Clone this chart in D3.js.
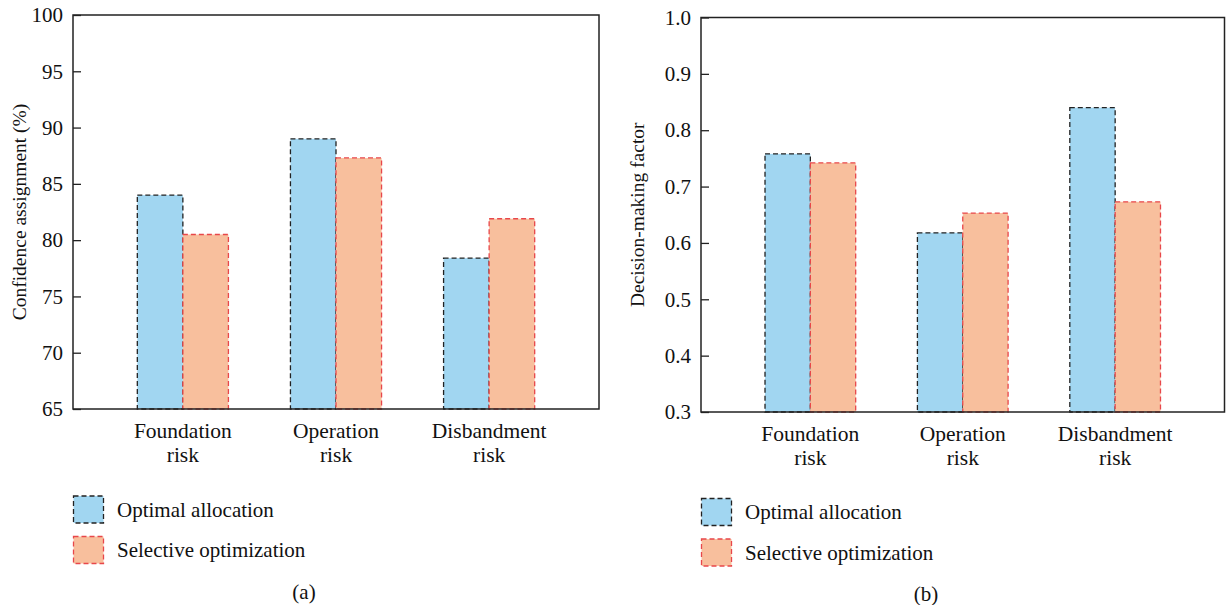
<!DOCTYPE html>
<html><head><meta charset="utf-8">
<script src="https://cdn.jsdelivr.net/npm/d3@7"></script>
<style>body{margin:0;background:#fff}svg{display:block}</style>
</head><body>
<svg id="c" width="1226" height="605"></svg>
<script>
const categories = [["Foundation","risk"],["Operation","risk"],["Disbandment","risk"]];
const seriesNames = ["Optimal allocation","Selective optimization"];
const confidenceOptimal = [84.0, 89.0, 78.4];
const confidenceSelective = [80.5, 87.3, 81.9];
const decisionOptimal = [0.758, 0.618, 0.840];
const decisionSelective = [0.742, 0.653, 0.673];
const ticksA = [65,70,75,80,85,90,95,100];
const ticksB = [0.3,0.4,0.5,0.6,0.7,0.8,0.9,1.0];

const svg = d3.select("#c");
const FONT = "Liberation Serif, Times New Roman, serif";
const fills = ["#a1d6f1","#f8bf9d"];
const strokes = ["#222","#e8474a"];

function panel(o){
  const g = svg.append("g");
  const y = d3.scaleLinear().domain(o.domain).range([o.bottom, o.top]);
  const x = d3.scaleBand().domain(d3.range(categories.length)).range([o.left, o.right])
      .paddingInner(0.405).paddingOuter(0.42);
  const xs = d3.scaleBand().domain([0,1]).range([0, x.bandwidth()]);
  const data = [o.a, o.b];
  categories.forEach((c,i)=>{
    [0,1].forEach(s=>{
      g.append("rect")
        .attr("x", x(i)+xs(s)).attr("width", xs.bandwidth())
        .attr("y", y(data[s][i])).attr("height", o.bottom - y(data[s][i]))
        .attr("fill", fills[s]).attr("stroke", strokes[s]).attr("stroke-width",1.3)
        .attr("stroke-dasharray","5,3");
    });
  });
  g.append("rect").attr("x",o.left).attr("y",o.top).attr("width",o.right-o.left).attr("height",o.bottom-o.top)
    .attr("fill","none").attr("stroke","#222").attr("stroke-width",1.5);
  const ax = g.append("g").attr("transform",`translate(${o.left},0)`)
    .call(d3.axisRight(y).tickValues(o.ticks).tickSize(8).tickFormat(o.fmt));
  ax.select(".domain").remove();
  ax.selectAll(".tick line").attr("stroke","#222").attr("stroke-width",1.3);
  ax.selectAll(".tick text").attr("x",-10).attr("text-anchor","end")
    .attr("font-family",FONT).attr("font-size",21).attr("fill","#111");
  g.append("text").attr("transform",`translate(${o.labelX},${(o.top+o.bottom)/2}) rotate(-90)`)
    .attr("text-anchor","middle").attr("dominant-baseline","central")
    .attr("font-family",FONT).attr("font-size",19.5).attr("fill","#111").text(o.label);
  categories.forEach((c,i)=>{
    const t = g.append("text").attr("x", x(i)+x.bandwidth()/2).attr("y", o.bottom+29)
      .attr("text-anchor","middle").attr("font-family",FONT).attr("font-size",21.5).attr("fill","#111");
    c.forEach((line,k)=>t.append("tspan").attr("x", x(i)+x.bandwidth()/2).attr("dy", k?24:0).text(line));
  });
  seriesNames.forEach((n,s)=>{
    const ly = o.legendY + s*40.5;
    g.append("rect").attr("x",o.left+0.5).attr("y",ly).attr("width",30).attr("height",27)
      .attr("fill",fills[s]).attr("stroke",strokes[s]).attr("stroke-width",1.3).attr("stroke-dasharray","5,3");
    g.append("text").attr("x",o.left+44).attr("y",ly+13.5).attr("dominant-baseline","central")
      .attr("font-family",FONT).attr("font-size",21).attr("fill","#111").text(n);
  });
  g.append("text").attr("x",o.capX).attr("y",o.capY).attr("text-anchor","middle")
    .attr("font-family",FONT).attr("font-size",21).attr("fill","#111").text(o.cap);
}

panel({left:73, right:599, top:15, bottom:409, domain:[65,100], ticks:ticksA, fmt:d3.format("d"),
  a:confidenceOptimal, b:confidenceSelective, label:"Confidence assignment (%)", labelX:19,
  legendY:496, cap:"(a)", capX:304, capY:599});
panel({left:701, right:1224.5, top:17.5, bottom:412, domain:[0.3,1.0], ticks:ticksB, fmt:d3.format(".1f"),
  a:decisionOptimal, b:decisionSelective, label:"Decision-making factor", labelX:637,
  legendY:498.5, cap:"(b)", capX:926, capY:601});
</script>
</body></html>
